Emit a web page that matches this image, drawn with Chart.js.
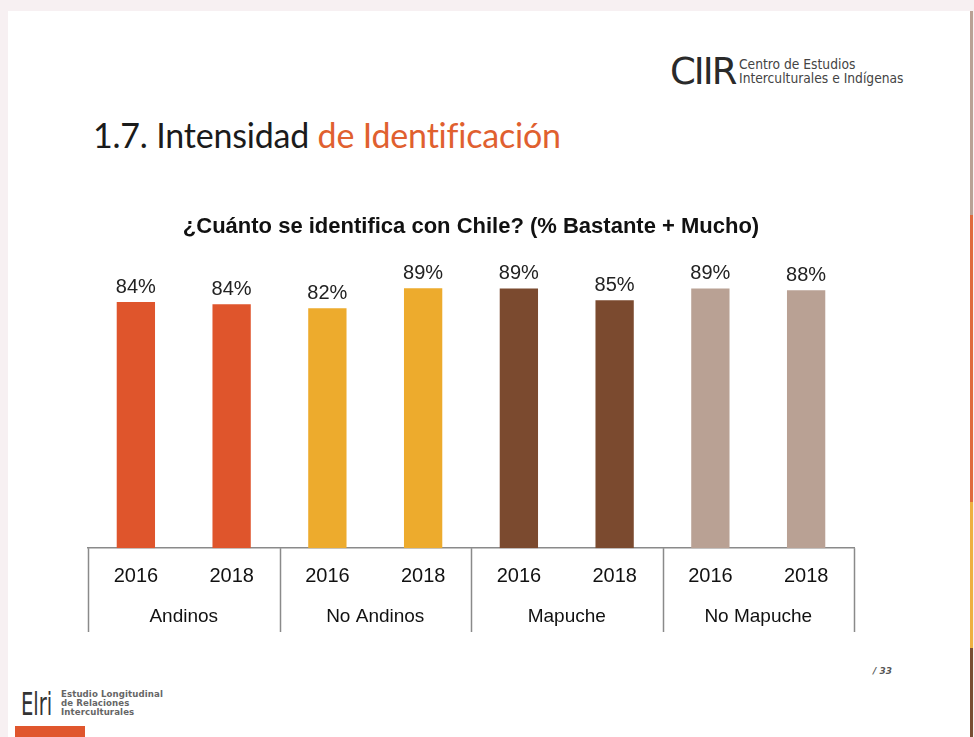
<!DOCTYPE html>
<html>
<head>
<meta charset="utf-8">
<script src="https://cdn.jsdelivr.net/npm/chart.js@4.4.1/dist/chart.umd.min.js"></script>
<style>
  html, body { margin:0; padding:0; }
  body { width:974px; height:737px; background:#f7f0f2; position:relative; overflow:hidden; font-family:"Liberation Sans", Arial, sans-serif; }
  #slide { position:absolute; left:8px; top:11px; width:962px; height:726px; background:#fff; }
  .stripe { position:absolute; left:970px; width:3px; }
  #heading { position:absolute; left:93px; top:114px; font-family:"Lato", "Open Sans", sans-serif; font-size:34px; color:#1b1b1b; white-space:nowrap; letter-spacing:-0.2px; }
  #heading span { color:#e0602f; }
  #ciir { position:absolute; left:670px; top:52px; font-family:"DejaVu Sans", sans-serif; font-size:37px; color:#2a2a2a; letter-spacing:-2px; line-height:40px; }
  #ciirtxt { position:absolute; left:739px; top:57px; font-family:"DejaVu Sans Condensed", "DejaVu Sans", sans-serif; font-size:13.7px; color:#444; line-height:14px; }
  #elri { position:absolute; left:21px; top:687px; font-family:"DejaVu Sans Condensed", sans-serif; font-size:32px; color:#333; line-height:34px; transform:scaleX(0.68); transform-origin:left top; }
  #elritxt { position:absolute; left:61px; top:690px; font-family:"DejaVu Sans", sans-serif; font-weight:bold; font-size:8.6px; color:#666; line-height:9px; letter-spacing:0.1px; }
  #orange { position:absolute; left:15px; top:726px; width:70px; height:11px; background:#e0562d; }
  #page { position:absolute; left:873px; top:666px; font-family:"DejaVu Sans", sans-serif; font-style:italic; font-weight:bold; font-size:9px; color:#555; }
  #wrap { position:absolute; left:40px; top:190px; width:870px; height:450px; }
</style>
</head>
<body>
<div id="slide"></div>
<div class="stripe" style="top:11px;height:204px;background:#b9a195;"></div>
<div class="stripe" style="top:215px;height:287px;background:#e06a3d;"></div>
<div class="stripe" style="top:502px;height:146px;background:#eeb041;"></div>
<div class="stripe" style="top:648px;height:89px;background:#7a4e33;"></div>
<div id="ciir">CIIR</div>
<div id="ciirtxt">Centro de Estudios<br>Interculturales e Indígenas</div>
<div id="heading">1.7. Intensidad <span>de Identificación</span></div>
<div id="wrap"><canvas id="c" width="870" height="450"></canvas></div>
<div id="page">/ 33</div>
<div id="elri">Elri</div>
<div id="elritxt">Estudio Longitudinal<br>de Relaciones<br>Interculturales</div>
<div id="orange"></div>
<script>
const years = ['2016','2018','2016','2018','2016','2018','2016','2018'];
const groups = ['Andinos','No Andinos','Mapuche','No Mapuche'];
const values = [84.4, 83.6, 82.2, 89.1, 89.0, 85.0, 89.0, 88.4];
const palette = ['#df552c','#df552c','#edab2d','#edab2d','#7b4a2f','#7b4a2f','#b9a194','#b9a194'];

const fontFam = "'Liberation Sans Narrow', 'Arial Narrow', 'Liberation Sans', sans-serif";

const valueLabels = {
  id: 'valueLabels',
  afterDatasetsDraw(chart) {
    const ctx = chart.ctx;
    const meta = chart.getDatasetMeta(0);
    ctx.save();
    ctx.font = "20px " + fontFam;
    ctx.fillStyle = '#222';
    ctx.textAlign = 'center';
    ctx.textBaseline = 'alphabetic';
    meta.data.forEach((bar, i) => {
      ctx.fillText(Math.round(values[i]) + '%', bar.x, bar.y - 9);
    });
    ctx.restore();
  }
};

const separators = {
  id: 'separators',
  afterDraw(chart) {
    const x = chart.scales.x;
    const x2 = chart.scales.x2;
    const ctx = chart.ctx;
    ctx.save();
    ctx.strokeStyle = '#8a8a8a';
    ctx.lineWidth = 1.5;
    const top = chart.chartArea.bottom;
    const bottom = x2.bottom + 3;
    for (let g = 0; g <= groups.length; g++) {
      let px;
      if (g === 0) px = x.left;
      else if (g === groups.length) px = x.right;
      else px = (x.getPixelForValue(2 * g - 1) + x.getPixelForValue(2 * g)) / 2;
      ctx.beginPath();
      ctx.moveTo(Math.round(px) + 0.5, top);
      ctx.lineTo(Math.round(px) + 0.5, bottom);
      ctx.stroke();
    }
    ctx.restore();
  }
};

new Chart(document.getElementById('c'), {
  type: 'bar',
  data: {
    labels: years,
    datasets: [{ data: values, backgroundColor: palette, categoryPercentage: 1, barPercentage: 0.4 }]
  },
  options: {
    responsive: false,
    animation: false,
    events: [],
    layout: { padding: { left: 48, right: 56, top: 0, bottom: 11 } },
    plugins: {
      legend: { display: false },
      tooltip: { enabled: false },
      title: {
        display: true,
        text: '¿Cuánto se identifica con Chile? (% Bastante + Mucho)',
        color: '#111',
        font: { family: fontFam, size: 22, weight: 'bold' },
        padding: { top: 24, bottom: 16 }
      }
    },
    scales: {
      y: { display: false, min: 0, max: 100 },
      x: {
        grid: { display: false, drawTicks: false },
        border: { display: true, color: '#8a8a8a', width: 1.5 },
        ticks: { color: '#111', font: { family: fontFam, size: 20 }, padding: 16, maxRotation: 0, autoSkip: false }
      },
      x2: {
        type: 'category',
        labels: groups,
        position: 'bottom',
        offset: true,
        grid: { display: false, drawTicks: false },
        border: { display: false },
        ticks: { color: '#111', font: { family: fontFam, size: 19 }, padding: 1, maxRotation: 0 }
      }
    }
  },
  plugins: [valueLabels, separators]
});
</script>
</body>
</html>
